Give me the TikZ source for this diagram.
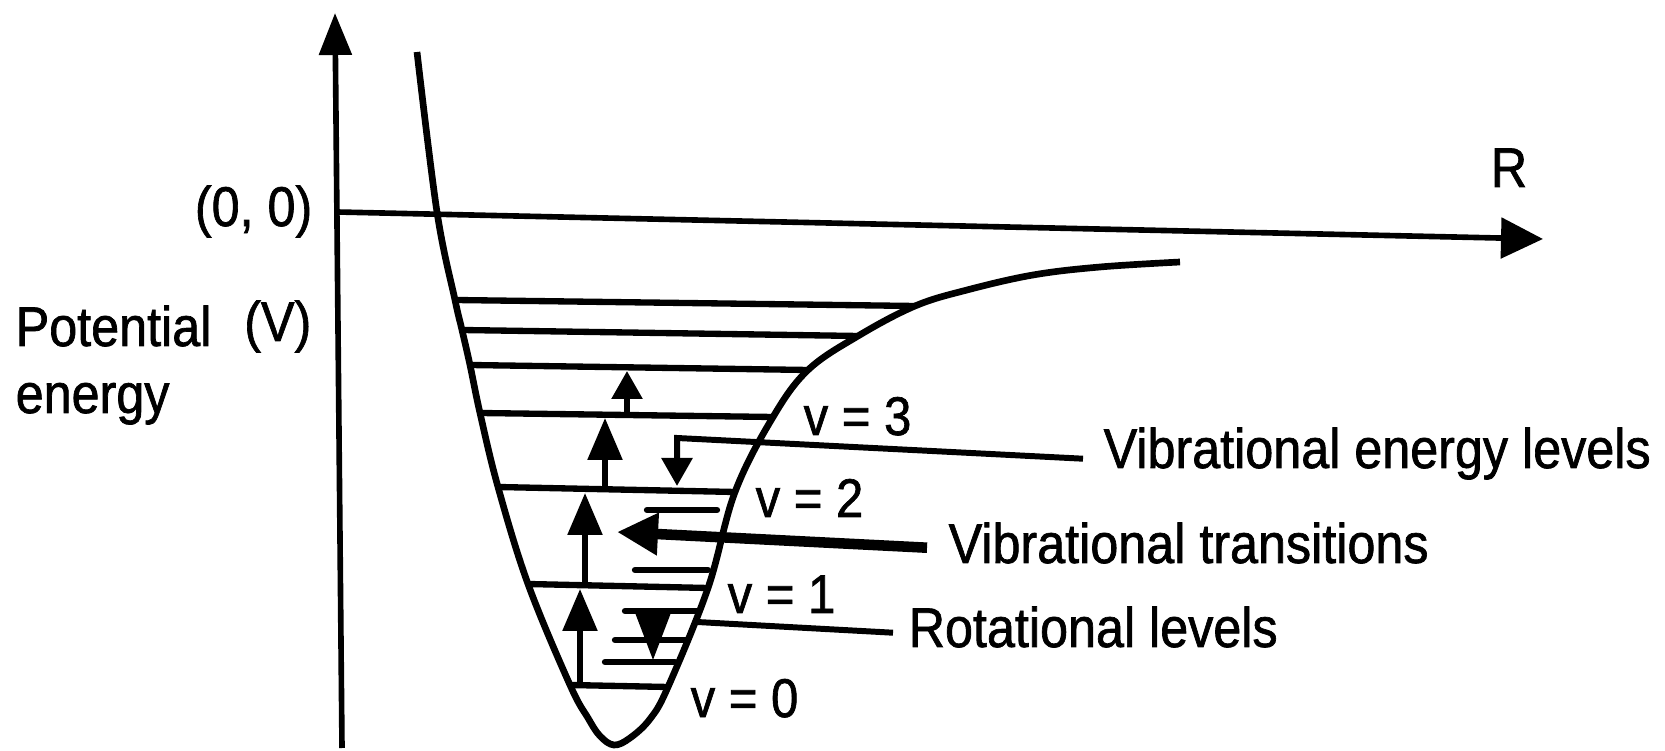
\documentclass[tikz,border=0pt]{standalone}
\usepackage{fontspec}
\setmainfont{Liberation Sans}[FakeStretch=0.9, FakeBold=1.2]
\usetikzlibrary{arrows.meta}

\begin{document}
\begin{tikzpicture}[
    x=0.1mm, y=-0.1mm,
    txt/.style={font=\fontsize{15.9}{19}\selectfont, inner sep=0pt,
                anchor=base west},
    vlab/.style={font=\fontsize{15.5}{18}\selectfont, inner sep=0pt,
                 anchor=base west},
    axis/.style={line width=1.6pt},
    well/.style={line width=1.9pt},
    level/.style={line width=1.8pt},
    rotlevel/.style={line width=1.8pt, line cap=round},
    pointer/.style={line width=1.7pt},
    up/.style={line width=1.6pt, -{Triangle[length=4.2mm, width=3.4mm]}},
    upsmall/.style={line width=1.6pt, -{Triangle[length=2.8mm, width=3mm]}},
    down/.style={line width=1.7pt, -{Triangle[length=2.8mm, width=3mm]}},
    rotdown/.style={line width=1pt, -{Triangle[length=4.6mm, width=3.4mm]}},
    fat/.style={line width=3pt, -{Triangle[length=4.1mm, width=4mm]}},
]
\useasboundingbox (0,0) rectangle (1665,751);

% axes
\coordinate (ybot) at (342,748);
\coordinate (ytop) at (335,13);
\coordinate (origin) at (337,212);
\coordinate (rtip) at (1543,239);
\draw[axis, -{Triangle[length=4.2mm, width=3.2mm]}] (ybot) -- (ytop);
\draw[axis, -{Triangle[length=4.2mm, width=4mm]}] (origin) -- (rtip);

% level ends on the well
\coordinate (l1) at (455,300);  \coordinate (r1) at (915,306);
\coordinate (l2) at (462,330);  \coordinate (r2) at (858,336);
\coordinate (l3) at (470,365);  \coordinate (r3) at (808,370);
\coordinate (l4) at (480,413);  \coordinate (r4) at (773,417);
\coordinate (l5) at (498,487);  \coordinate (r5) at (735,492);
\coordinate (l6) at (528,584);  \coordinate (r6) at (708,588);
\coordinate (l7) at (570,685);  \coordinate (r7) at (668,687);

% potential well
\draw[well] plot[smooth, tension=0.6] coordinates {
    (417,52) (437,212) (l1) (l2) (l3) (l4) (l5) (l6) (l7)
    (588,718) (600,736) (614,745) (630,738) (650,719) (r7) (r6) (r5)
    (r4) (r3) (r2) (r1) (967,290) (1033,275) (1100,267) (1180,262)};

% vibrational levels
\foreach \i in {1,...,7}
    \draw[level] (l\i) -- (r\i);

% rotational levels
\foreach \ya/\xa/\xb in {510/647/717, 570/635/708, 611/625/698,
                         640/615/687, 662/605/675}
    \draw[rotlevel] (\xa,\ya) -- (\xb,\ya);

% transitions
\draw[up] (580,685) -- (580,589);
\draw[up] (585,584) -- (585,493);
\draw[up] (605,487) -- (605,418);
\draw[upsmall] (627,413) -- (627,371);
\draw[rotdown] (653,612) -- (653,660);

% labels
\node[txt, anchor=base east] (zero) at (313,226) {(0, 0)};
\node[txt] (pot) at (15,346) {Potential};
\node[txt, anchor=base east] (volt) at (312,341) {(V)};
\node[txt] (ener) at (15,413) {energy};
\node[txt, anchor=base] (rlab) at (1509,187) {R};

\node[vlab] (v3) at (803,435) {v = 3};
\node[vlab] (v2) at (755,517) {v = 2};
\node[vlab] (v1) at (727,613) {v = 1};
\node[vlab] (v0) at (690,717) {v = 0};

\node[txt] (vel) at (1103,468) {Vibrational energy levels};
\node[txt] (vtr) at (948,563) {Vibrational transitions};
\node[txt] (rot) at (908,647) {Rotational levels};

% pointers
\coordinate (vknee) at (677,438);
\coordinate (vfoot) at (677,486);
\coordinate (vtip) at (617,532);
\coordinate (rfoot) at (697,622);
\draw[down] ([xshift=-2mm]vel.mid west) -- (vknee) -- (vfoot);
\draw[fat] ([xshift=-2.1mm, yshift=0.6mm]vtr.mid west) -- (vtip);
\draw[pointer] ([xshift=-1.5mm, yshift=0.5mm]rot.mid west) -- (rfoot);

\end{tikzpicture}
\end{document}
